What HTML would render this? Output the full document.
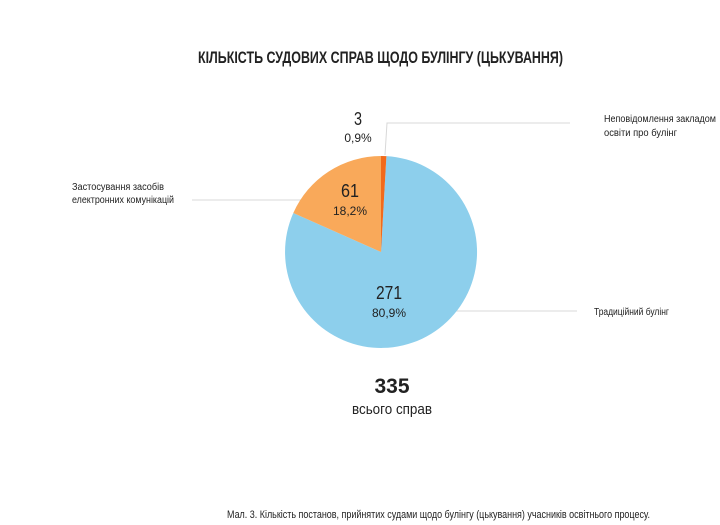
<!DOCTYPE html>
<html><head><meta charset="utf-8"><style>
html,body{margin:0;padding:0;background:#fff;}
svg{display:block;}
text{font-family:"Liberation Sans",sans-serif;fill:#222;}
</style></head><body>
<svg width="720" height="525" viewBox="0 0 720 525" xmlns="http://www.w3.org/2000/svg">
<text x="198" y="63" font-size="17" font-weight="bold" fill="#111" textLength="365" lengthAdjust="spacingAndGlyphs">КІЛЬКІСТЬ СУДОВИХ СПРАВ ЩОДО БУЛІНГУ (ЦЬКУВАННЯ)</text>
<g stroke="#d8d8d8" stroke-width="1" fill="none">
<polyline points="385,155 387,123 570,123"/>
<line x1="192" y1="200" x2="305" y2="200"/>
<line x1="432" y1="311" x2="577" y2="311"/>
</g>
<path d="M381,252 L386.4,156.1 A96,96 0 1 1 293.3,213 Z" fill="#8dcfec"/>
<path d="M381,252 L293.3,213 A96,96 0 0 1 381,156 Z" fill="#f9a95a"/>
<path d="M381,252 L381,156 A96,96 0 0 1 386.4,156.1 Z" fill="#f26a1b"/>
<text x="358" y="125" font-size="18" text-anchor="middle" textLength="8" lengthAdjust="spacingAndGlyphs">3</text>
<text x="358" y="142" font-size="12" text-anchor="middle">0,9%</text>
<text x="350" y="197" font-size="18" text-anchor="middle" textLength="18" lengthAdjust="spacingAndGlyphs">61</text>
<text x="350" y="215" font-size="12" text-anchor="middle">18,2%</text>
<text x="389" y="299" font-size="18" text-anchor="middle" textLength="26" lengthAdjust="spacingAndGlyphs">271</text>
<text x="389" y="317" font-size="12" text-anchor="middle">80,9%</text>
<text x="72" y="190" font-size="10" textLength="92" lengthAdjust="spacingAndGlyphs">Застосування засобів</text>
<text x="72" y="203" font-size="10" textLength="102" lengthAdjust="spacingAndGlyphs">електронних комунікацій</text>
<text x="604" y="122" font-size="10" textLength="112" lengthAdjust="spacingAndGlyphs">Неповідомлення закладом</text>
<text x="604" y="136" font-size="10" textLength="73" lengthAdjust="spacingAndGlyphs">освіти про булінг</text>
<text x="594" y="315" font-size="10" textLength="75" lengthAdjust="spacingAndGlyphs">Традиційний булінг</text>
<text x="392" y="393" font-size="21" font-weight="bold" text-anchor="middle" fill="#111">335</text>
<text x="392" y="414" font-size="15" text-anchor="middle" textLength="80" lengthAdjust="spacingAndGlyphs">всього справ</text>
<text x="227" y="518" font-size="11" fill="#111" textLength="423" lengthAdjust="spacingAndGlyphs">Мал. 3. Кількість постанов, прийнятих судами щодо булінгу (цькування) учасників освітнього процесу.</text>
</svg>
</body></html>
